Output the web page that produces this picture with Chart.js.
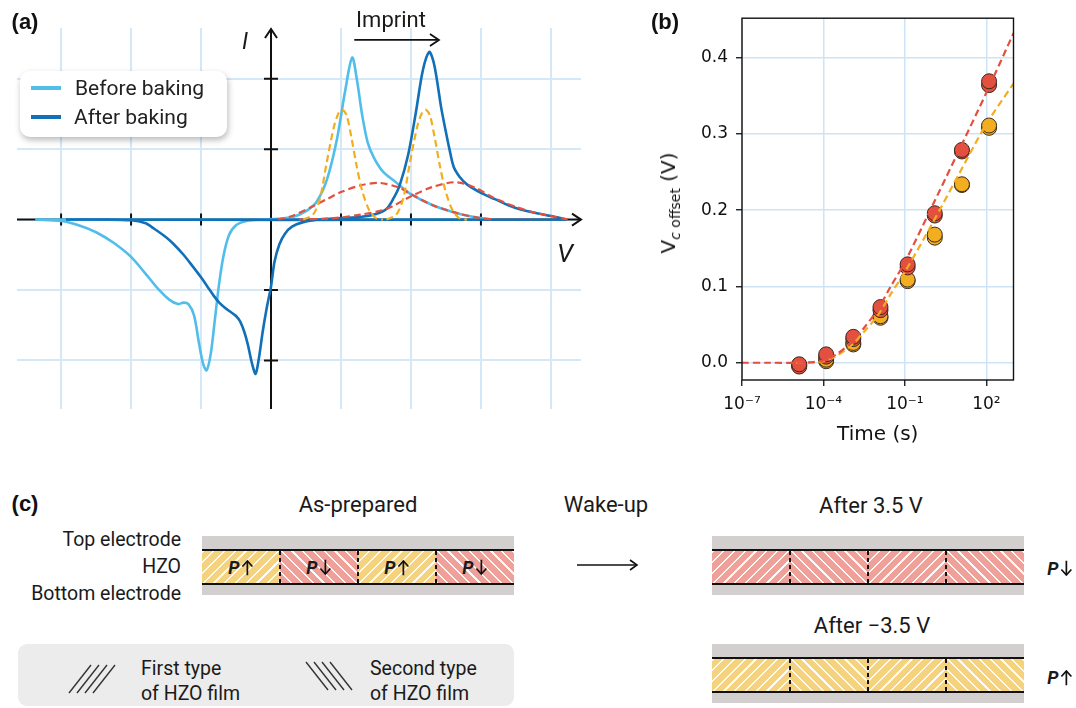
<!DOCTYPE html>
<html>
<head>
<meta charset="utf-8">
<script src="https://cdn.jsdelivr.net/npm/chart.js@4.4.1/dist/chart.umd.min.js"></script>
<style>
  html, body { margin: 0; padding: 0; background: #fff; }
  #fig { position: relative; width: 1076px; height: 708px; overflow: hidden;
         font-family: Roboto, "Noto Sans", sans-serif; color: #1a1a1a; }
  .abs { position: absolute; white-space: nowrap; line-height: 1; }
  .c { transform: translate(-50%, -50%); }
  .r { transform: translate(-100%, -50%); }
  .l { transform: translate(0, -50%); }
  .panel { font-family: "Liberation Sans", Arial, sans-serif; font-weight: 700; font-size: 22px; color: #111; }
  .title { font-size: 22px; }
  .lab { font-size: 19.5px; }
  .stack { position: absolute; background: #d3cfcf; height: 59px; }
  .hzo { position: absolute; left: 0; right: 0; top: 13px; height: 36px; box-sizing: border-box;
         border-top: 2.5px solid #111; border-bottom: 2.5px solid #111; display: flex; }
  .seg { position: relative; flex: 1; height: 100%; }
  .div { position: absolute; right: -1px; top: 0; bottom: 0; width: 2px; z-index: 2;
         background: repeating-linear-gradient(to bottom, #111 0 4px, transparent 4px 7px); }
  .pl { position: absolute; left: 50%; top: 50%; transform: translate(-50%, -50%); font-size: 18px; font-weight: 700;
        display: flex; align-items: center; }
  .pr { position: absolute; transform: translate(-50%, -50%); font-size: 18px; font-weight: 700; display: flex; align-items: center; }
  .pl svg, .pr svg { margin-left: 2px; }
</style>
</head>
<body>
<div id="fig">
  <canvas id="chartA" width="600" height="420" style="position:absolute;left:0;top:0"></canvas>
  <canvas id="chartB" width="436" height="450" style="position:absolute;left:640px;top:0"></canvas>

  <div class="abs c panel" style="left:25px;top:22px">(a)</div>
  <div class="abs c panel" style="left:665px;top:22px">(b)</div>
  <div class="abs c panel" style="left:25px;top:504px">(c)</div>

  <!-- panel (a) annotations -->
  <div class="abs c" style="left:391px;top:20px;font-size:22px">Imprint</div>
  <div class="abs c" style="left:245px;top:41px;font-size:23px;font-style:italic">I</div>
  <div class="abs c" style="left:565px;top:253px;font-size:26px;font-style:italic">V</div>
  <div id="legendA" class="abs" style="left:20px;top:71px;width:207px;height:66px;border-radius:10px;background:#fff;box-shadow:1px 3px 6px rgba(0,0,0,.28)"></div>

  <!-- panel (b) y title -->
  <div class="abs c" style="left:670px;top:203px;transform:translate(-50%,-50%) rotate(-90deg);font-family:'DejaVu Sans';font-size:20px;color:#111">V<sub style="font-size:14px"><i>c</i> offset</sub> (V)</div>

  <!-- panel (c) -->
  <div class="abs c title" style="left:358px;top:505px">As-prepared</div>
  <div class="abs c title" style="left:606px;top:505px">Wake-up</div>
  <div class="abs c title" style="left:871px;top:506px">After 3.5 V</div>
  <div class="abs c title" style="left:872px;top:626px">After −3.5 V</div>
  <div class="abs r lab" style="left:181px;top:540px">Top electrode</div>
  <div class="abs r lab" style="left:181px;top:567px">HZO</div>
  <div class="abs r lab" style="left:181px;top:594px">Bottom electrode</div>
  <svg style="position:absolute;left:576px;top:558px" width="64" height="14">
    <line x1="1" y1="7" x2="61" y2="7" stroke="#111" stroke-width="1.6"/>
    <polyline points="54,2 61,7 54,12" fill="none" stroke="#111" stroke-width="1.6"/>
  </svg>
  <div id="pRight1" class="pr" style="left:1060px;top:568px"></div>
  <div id="pRight2" class="pr" style="left:1060px;top:677px"></div>

  <div class="abs" style="left:18px;top:644px;width:496px;height:62px;border-radius:9px;background:#ececec"></div>
  <svg style="position:absolute;left:66px;top:660px" width="54" height="36" stroke="#333" stroke-width="1.4">
    <line x1="3" y1="33" x2="25" y2="5"/><line x1="11" y1="33" x2="33" y2="5"/>
    <line x1="19" y1="33" x2="41" y2="5"/><line x1="27" y1="33" x2="49" y2="5"/>
  </svg>
  <div class="abs lab" style="left:141px;top:656px;line-height:25px">First type<br>of HZO film</div>
  <svg style="position:absolute;left:303px;top:658px" width="54" height="36" stroke="#333" stroke-width="1.4">
    <line x1="3" y1="4" x2="25" y2="32"/><line x1="11" y1="4" x2="33" y2="32"/>
    <line x1="19" y1="4" x2="41" y2="32"/><line x1="27" y1="4" x2="49" y2="32"/>
  </svg>
  <div class="abs lab" style="left:370px;top:656px;line-height:25px">Second type<br>of HZO film</div>
</div>

<script>
// ---------- panel (a): schematic I-V curves (grid units) ----------
const beforeV = [-3.37,-3.0,-2.75,-2.5,-2.25,-2.0,-1.8,-1.6,-1.45,-1.33,-1.25,-1.18,-1.1,-1.03,-0.97,-0.92,-0.86,-0.8,-0.74,-0.68,-0.6,-0.5,-0.35,-0.15,0.1,0.32,0.5,0.65,0.8,0.94,1.06,1.16,1.23,1.3,1.38,1.47,1.6,1.76,2.0,2.32,2.7,3.0,3.15,-3.37];
const beforeI = [0,-0.02,-0.08,-0.18,-0.33,-0.53,-0.76,-1.0,-1.14,-1.2,-1.18,-1.2,-1.36,-1.75,-2.05,-2.14,-1.9,-1.4,-0.9,-0.52,-0.22,-0.08,-0.02,0,0.01,0.04,0.12,0.25,0.57,1.13,1.83,2.3,1.97,1.5,1.1,0.88,0.68,0.55,0.36,0.2,0.08,0.02,0,0];
const afterV = [-2.93,-2.4,-2.0,-1.8,-1.67,-1.5,-1.4,-1.25,-1.13,-1.0,-0.91,-0.82,-0.74,-0.65,-0.58,-0.5,-0.44,-0.38,-0.33,-0.27,-0.22,-0.17,-0.12,-0.06,0,0.05,0.12,0.2,0.3,0.45,0.7,1.0,1.3,1.5,1.65,1.75,1.84,1.96,2.07,2.17,2.26,2.32,2.37,2.43,2.49,2.55,2.61,2.7,2.8,3.0,3.2,3.4,3.58,3.8,4.0,4.2,-2.93];
const afterI = [0,0,-0.01,-0.05,-0.13,-0.25,-0.34,-0.5,-0.65,-0.82,-0.95,-1.08,-1.18,-1.26,-1.31,-1.37,-1.45,-1.6,-1.78,-2.05,-2.19,-1.95,-1.6,-1.25,-0.95,-0.6,-0.35,-0.2,-0.1,-0.04,0,0.02,0.04,0.08,0.15,0.3,0.49,0.92,1.52,2.12,2.38,2.25,1.99,1.6,1.29,1.0,0.75,0.6,0.5,0.38,0.29,0.2,0.14,0.09,0.05,0,0];
const narrowBeforeV = [0.46,0.6,0.7,0.79,0.9,0.97,1.02,1.08,1.15,1.22,1.3,1.4,1.5,1.6];
const narrowBeforeI = [0,0.07,0.3,0.78,1.32,1.52,1.56,1.48,1.16,0.78,0.42,0.14,0.02,0];
const narrowAfterV = [1.65,1.79,1.89,1.98,2.09,2.16,2.21,2.27,2.34,2.41,2.49,2.59,2.69,2.8];
const narrowAfterI = [0,0.07,0.3,0.78,1.32,1.52,1.56,1.48,1.16,0.78,0.42,0.14,0.02,0];
const broadBeforeV = [0.1,0.3,0.56,0.8,1.0,1.3,1.56,1.84,2.0,2.32,2.7,3.0,3.2];
const broadBeforeI = [0,0.05,0.17,0.29,0.39,0.49,0.52,0.45,0.36,0.2,0.08,0.02,0];
const broadAfterV = [0.4,0.9,1.28,1.65,2.0,2.3,2.63,2.9,3.2,3.5,3.8,4.0,4.2,4.3];
const broadAfterI = [0,0.02,0.07,0.15,0.33,0.46,0.53,0.46,0.3,0.18,0.09,0.05,0.01,0];
const gridV = [-3,-2,-1,0,1,2,3,4];
const gridI = [-2,-1,0,1,2];
const tickMarksV = [-3,-2,-1,1,2,3];
const tickMarksI = [-2,-1,1,2];

// ---------- panel (b): Vc offset vs time ----------
const times = [1.28e-5,1.26e-4,1.26e-3,1.26e-2,1.26e-1,1.26,12.6,126];
const redRun1 = [-0.002,0.011,0.034,0.073,0.129,0.196,0.279,0.369];
const redRun2 = [-0.005,0.008,0.031,0.069,0.125,0.193,0.277,0.364];
const yellowRun1 = [-0.004,0.004,0.026,0.061,0.109,0.168,0.234,0.311];
const yellowRun2 = [-0.003,0.002,0.024,0.059,0.107,0.164,0.233,0.308];
const redFitTime = [1e-7,1e-6,1e-5,3e-5,1e-4,3e-4,1e-3,3e-3,1e-2,3e-2,1e-1,1,10,100,1000];
const redFit = [0,0,0,0.0005,0.003,0.011,0.026,0.045,0.07,0.1,0.132,0.205,0.279,0.354,0.432];
const yellowFitTime = [1e-5,3e-5,1e-4,3e-4,1e-3,3e-3,1e-2,3e-2,1e-1,1,10,100,1000];
const yellowFit = [0,0,0.002,0.009,0.022,0.04,0.062,0.09,0.119,0.182,0.248,0.313,0.366];
const timeTicks = [1e-7,1e-4,1e-1,1e2];
const timeTickLabels = ['10⁻⁷','10⁻⁴','10⁻¹','10²'];
const vcTicks = [0,0.1,0.2,0.3,0.4];
const vcTickLabels = ['0.0','0.1','0.2','0.3','0.4'];

// ---------- panel (c): domain layout ----------
const asPrepared = ['up','down','up','down'];
const after35 = ['down','down','down','down'];
const afterMinus35 = ['up','up','up','up'];
const filmType = ['first','second','first','second'];

const LIGHT = '#50bdeb', DARK = '#1170b8', ORANGE = '#f2ae1f', RED = '#e4503f';
const pts = (xs, ys) => xs.map((x, i) => ({x: x, y: ys[i]}));

// arrows, axes and ticks of the sketch
const sketchAxes = {
  id: 'sketchAxes',
  beforeDatasetsDraw(chart) {
    const {ctx, chartArea: a, scales: {x, y}} = chart;
    const x0 = x.getPixelForValue(0), y0 = y.getPixelForValue(0);
    const head = (tx, ty, dx, dy) => {
      ctx.beginPath();
      ctx.moveTo(tx - dx * 9 - dy * 6, ty - dy * 9 - dx * 6);
      ctx.lineTo(tx, ty);
      ctx.lineTo(tx - dx * 9 + dy * 6, ty - dy * 9 + dx * 6);
      ctx.stroke();
    };
    ctx.save();
    ctx.strokeStyle = '#111';
    ctx.lineWidth = 2;
    ctx.beginPath();
    ctx.moveTo(a.left, y0); ctx.lineTo(a.right, y0);
    ctx.moveTo(x0, a.bottom); ctx.lineTo(x0, a.top + 1);
    tickMarksV.forEach(v => { const px = x.getPixelForValue(v); ctx.moveTo(px, y0 - 6); ctx.lineTo(px, y0 + 6); });
    tickMarksI.forEach(v => { const py = y.getPixelForValue(v); ctx.moveTo(x0 - 7, py); ctx.lineTo(x0 + 7, py); });
    ctx.stroke();
    head(a.right, y0, 1, 0);
    head(x0, a.top + 1, 0, -1);
    // imprint arrow
    const ia = x.getPixelForValue(1.19), ib = x.getPixelForValue(2.4), iy = y.getPixelForValue(2.55);
    ctx.lineWidth = 1.8;
    ctx.beginPath(); ctx.moveTo(ia, iy); ctx.lineTo(ib, iy); ctx.stroke();
    head(ib, iy, 1, 0);
    ctx.restore();
  }
};

const curve = (label, xs, ys, color, width, dash, order) => ({
  label: label, data: pts(xs, ys), showLine: true, borderColor: color, borderWidth: width,
  borderDash: dash, pointRadius: 0, tension: 0.3, order: order, fill: false
});

const chartA = new Chart(document.getElementById('chartA'), {
  type: 'scatter',
  data: {
    datasets: [
      curve('Before baking', beforeV, beforeI, LIGHT, 2.6, [], 2),
      curve('After baking', afterV, afterI, DARK, 2.6, [], 1),
      curve('narrow 1', narrowBeforeV, narrowBeforeI, ORANGE, 2.2, [7, 4], 0),
      curve('narrow 2', narrowAfterV, narrowAfterI, ORANGE, 2.2, [7, 4], 0),
      curve('broad 1', broadBeforeV, broadBeforeI, RED, 2.2, [7, 4], 0),
      curve('broad 2', broadAfterV, broadAfterI, RED, 2.2, [7, 4], 0)
    ]
  },
  options: {
    responsive: false, animation: false,
    layout: {padding: {left: 17, top: 28, right: 19, bottom: 11}},
    plugins: {legend: {display: false}, tooltip: {enabled: false}},
    scales: {
      x: {
        type: 'linear', min: -3.63, max: 4.43,
        afterBuildTicks: s => { s.ticks = gridV.map(v => ({value: v})); },
        afterFit: s => { s.height = 0; },
        ticks: {display: false},
        grid: {color: '#d5e8f8', lineWidth: 2, drawTicks: false},
        border: {display: false}
      },
      y: {
        min: -2.69, max: 2.72,
        afterBuildTicks: s => { s.ticks = gridI.map(v => ({value: v})); },
        afterFit: s => { s.width = 0; },
        ticks: {display: false},
        grid: {color: '#d5e8f8', lineWidth: 2, drawTicks: false},
        border: {display: false}
      }
    }
  },
  plugins: [sketchAxes]
});

// legend of panel (a), taken from the two solid datasets
const legendA = document.getElementById('legendA');
chartA.data.datasets.slice(0, 2).forEach((ds, i) => {
  const cy = 17 + i * 29;
  legendA.insertAdjacentHTML('beforeend',
    '<div style="position:absolute;left:11px;top:' + (cy - 2) + 'px;width:30px;height:4px;background:' + ds.borderColor + '"></div>' +
    '<div class="abs l" style="left:' + (55 - i) + 'px;top:' + cy + 'px;font-size:21px;color:#222">' + ds.label + '</div>');
});

// frame of panel (b)
const frameBox = {
  id: 'frameBox',
  afterDatasetsDraw(chart) {
    const {ctx, chartArea: a} = chart;
    ctx.save();
    ctx.strokeStyle = '#111';
    ctx.lineWidth = 1.4;
    ctx.strokeRect(a.left, a.top, a.right - a.left, a.bottom - a.top);
    ctx.restore();
  }
};

const dots = (label, ys, color, order) => ({
  label: label, data: pts(times, ys), backgroundColor: color, borderColor: '#3a2a22',
  borderWidth: 1, pointRadius: 7.5, order: order
});
const fit = (label, xs, ys, color) => ({
  label: label, data: pts(xs, ys), showLine: true, borderColor: color, borderWidth: 2.2,
  borderDash: [7, 4], pointRadius: 0, tension: 0.3, order: 0
});
const tickFont = {family: 'DejaVu Sans', size: 17};

new Chart(document.getElementById('chartB'), {
  type: 'scatter',
  data: {
    datasets: [
      fit('red fit', redFitTime, redFit, RED),
      fit('yellow fit', yellowFitTime, yellowFit, ORANGE),
      dots('red 1', redRun1, RED, 1),
      dots('red 2', redRun2, RED, 1),
      dots('yellow 1', yellowRun1, ORANGE, 2),
      dots('yellow 2', yellowRun2, ORANGE, 2)
    ]
  },
  options: {
    responsive: false, animation: false,
    layout: {padding: {left: 42, right: 62.5, top: 10, bottom: 0}},
    plugins: {legend: {display: false}, tooltip: {enabled: false}},
    scales: {
      x: {
        type: 'logarithmic', min: 1e-7, max: 1e3,
        afterBuildTicks: s => { s.ticks = timeTicks.map(v => ({value: v})); },
        afterFit: s => { s.height = 70; },
        ticks: {callback: (v, i) => timeTickLabels[i], font: tickFont, color: '#111', padding: 8, maxRotation: 0, autoSkip: false},
        grid: {color: '#cfe3f6', lineWidth: 1.5, tickColor: '#111', tickLength: 6, tickWidth: 1.3},
        border: {display: false},
        title: {display: true, text: 'Time (s)', font: {family: 'DejaVu Sans', size: 20}, color: '#111', padding: {top: 0, bottom: 3.5}}
      },
      y: {
        min: -0.0226, max: 0.4517,
        afterBuildTicks: s => { s.ticks = vcTicks.map(v => ({value: v})); },
        afterFit: s => { s.width = 60; },
        ticks: {callback: (v, i) => vcTickLabels[i], font: tickFont, color: '#111', padding: 8},
        grid: {color: '#cfe3f6', lineWidth: 1.5, tickColor: '#111', tickLength: 6, tickWidth: 1.3},
        border: {display: false}
      }
    }
  },
  plugins: [frameBox]
});

// ---------- panel (c) stacks ----------
const FILL = {up: '#f4d27e', down: '#efa099'};
const HATCH = {first: '135deg', second: '45deg'};
// polarisation label: bold italic P followed by a thin arrow
function polLabel(d) {
  const shaft = d === 'up' ? 'M6 16V2' : 'M6 0V14';
  const headPts = d === 'up' ? '1,7 6,1.5 11,7' : '1,9 6,14.5 11,9';
  return '<i>P</i><svg width="12" height="16" viewBox="0 0 12 16" fill="none" stroke="#111" stroke-width="1.7">' +
    '<path d="' + shaft + '"/><polyline points="' + headPts + '"/></svg>';
}
function buildStack(left, top, domains, labelled) {
  const fig = document.getElementById('fig');
  const st = document.createElement('div');
  st.className = 'stack';
  st.style.left = left + 'px';
  st.style.top = top + 'px';
  st.style.width = '312px';
  const hzo = document.createElement('div');
  hzo.className = 'hzo';
  domains.forEach((d, i) => {
    const seg = document.createElement('div');
    seg.className = 'seg';
    seg.style.background = 'repeating-linear-gradient(' + HATCH[filmType[i]] +
      ',rgba(255,255,255,.92) 0 1.5px,transparent 1.5px 7.6px),' + FILL[d];
    if (i < domains.length - 1) seg.insertAdjacentHTML('beforeend', '<div class="div"></div>');
    if (labelled) seg.insertAdjacentHTML('beforeend', '<div class="pl">' + polLabel(d) + '</div>');
    hzo.appendChild(seg);
  });
  st.appendChild(hzo);
  fig.appendChild(st);
}
buildStack(202, 536, asPrepared, true);
buildStack(712, 536, after35, false);
buildStack(712, 644, afterMinus35, false);
document.getElementById('pRight1').innerHTML = polLabel(after35[0]);
document.getElementById('pRight2').innerHTML = polLabel(afterMinus35[0]);
</script>
</body>
</html>
